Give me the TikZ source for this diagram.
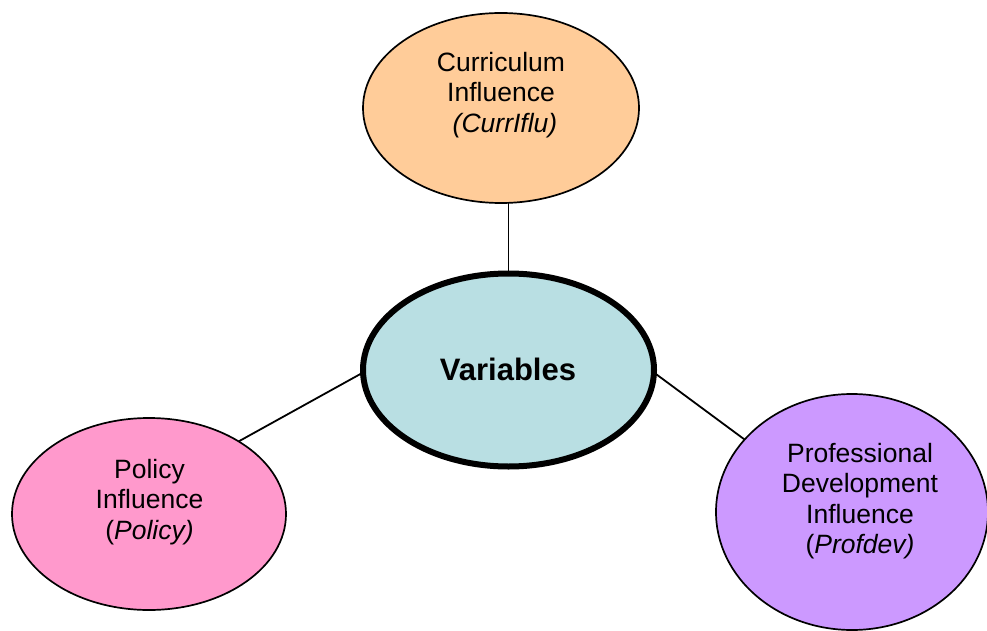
\documentclass[tikz,border=0pt]{standalone}
\usepackage{fontspec}
\setmainfont{Liberation Sans}
\usetikzlibrary{shapes.geometric}

\definecolor{currfill}{HTML}{FFCC99}
\definecolor{varfill}{HTML}{B9DFE3}
\definecolor{polfill}{HTML}{FF99CC}
\definecolor{proffill}{HTML}{CC99FF}

\tikzset{
  bubble/.style={ellipse, draw=black, line width=1.7pt, inner sep=0pt, outer sep=0pt},
  hub/.style={ellipse, draw=black, line width=6pt, inner sep=0pt, outer sep=0pt},
  bubbletext/.style={align=center, inner sep=0pt, font=\fontsize{26.5}{30.5}\selectfont},
  hubtext/.style={inner sep=0pt, font=\fontsize{31}{36}\selectfont\bfseries},
  link/.style={draw=black, line width=1.8pt}
}

\begin{document}
\begin{tikzpicture}[x=1pt, y=-1pt]
  \useasboundingbox (0,0) rectangle (987,631);

  % ellipses
  \node[bubble, fill=currfill, minimum width=276pt, minimum height=190pt] (curr) at (501,108) {};
  \node[hub, fill=varfill, minimum width=291pt, minimum height=193pt] (vars) at (508.5,370) {};
  \node[bubble, fill=polfill, minimum width=274pt, minimum height=192pt] (pol) at (149,514) {};
  \node[bubble, fill=proffill, minimum width=272pt, minimum height=236pt] (prof) at (852,512) {};

  % labels
  \node[bubbletext] (currlbl) at (501,95) {Curriculum\\Influence\\\hspace*{8pt}\textit{(CurrIflu)}};
  \node[hubtext] (varslbl) at (508,369) {Variables};
  \node[bubbletext] (pollbl) at (149.5,502) {Policy\\Influence\\(\textit{Policy)}};
  \node[bubbletext] (proflbl) at (860,501) {Professional\\Development\\Influence\\(\textit{Profdev)}};

  % connectors
  \draw[link] (vars.north) -- (vars.north |- curr.south);
  \draw[link] (pol.39) -- (vars.181);
  \draw[link] (vars.-1) -- (prof.146);
\end{tikzpicture}
\end{document}
